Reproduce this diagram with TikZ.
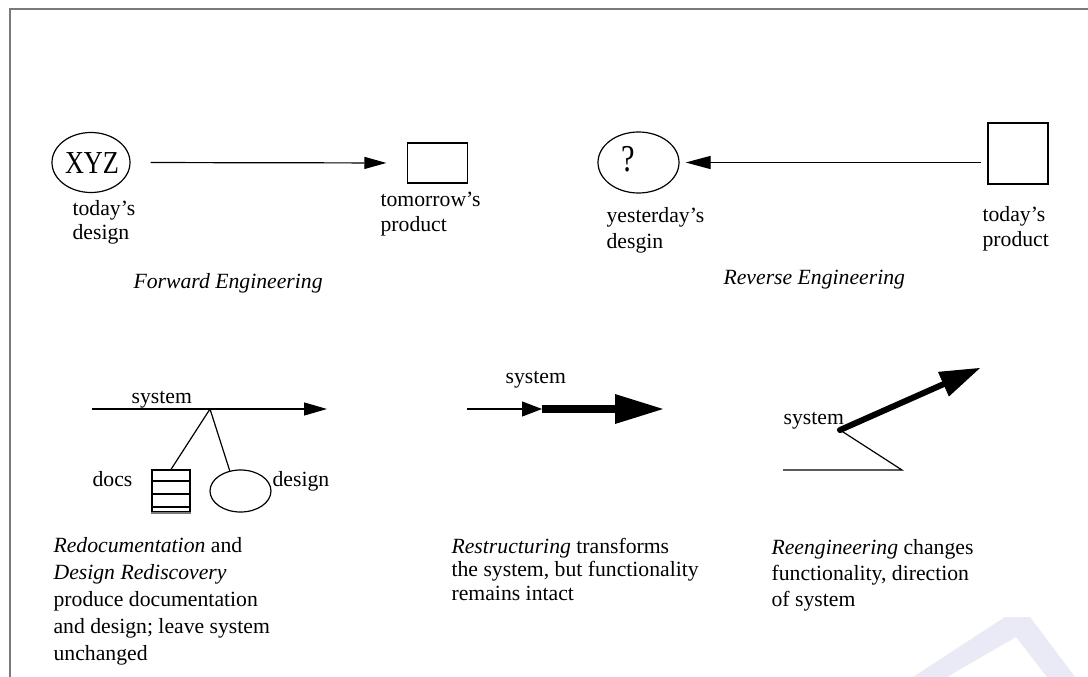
\documentclass[tikz,border=0pt]{standalone}
\usepackage{fontspec}
\setmainfont{Liberation Serif}
\usepackage{graphicx}
\usetikzlibrary{arrows.meta,shapes.geometric}
\definecolor{framegray}{HTML}{7A7A7A}
\definecolor{markwash}{HTML}{E9EAF6}
% multi-line text nodes are anchored on the baseline of their last line
\tikzset{
  txt/.style={anchor=base west, inner sep=0pt, align=left,
    font=\fontsize{21.7}{#1}\selectfont},
  txt/.default=24,
  oval/.style={draw, ellipse, inner sep=0pt},
  boxnode/.style={draw, rectangle, inner sep=0pt},
  big/.style={inner sep=0pt, font=\fontsize{#1}{#1}\selectfont},
  big/.default=32,
  headA/.style={-{Triangle[length=22pt,width=12pt]}},
}
\begin{document}
\begin{tikzpicture}[x=1pt,y=-1pt,line width=1.2pt]
\useasboundingbox (0,0) rectangle (1088,677);
\fill[white] (0,0) rectangle (1088,677);

% faint mark in the lower right corner
\fill[markwash] (913,677) -- (1005,617) -- (1030,617) -- (1075,677) -- (1047,677)
  -- (1016,637) -- (947,677) -- cycle;

% page frame
\draw[framegray, line width=1.8pt] (10,677) -- (10,9) -- (1088,9);

% ---------- Forward engineering ----------
\node[oval, minimum width=78pt, minimum height=60pt] (xyz) at (91,162.5) {};
\node[big=32] (xyzt) at (92,163.5) {\scalebox{0.82}[1]{XYZ}};
\node[boxnode, minimum width=60pt, minimum height=40pt] (tp) at (437.5,163) {};
\draw[headA, shorten <=20pt, shorten >=20.5pt] (xyz.east) -- (tp.west);
\node[txt=24] (td) at (72,239) {today’s\\design};
\node[txt=25] (tpl) at (380,231) {tomorrow’s\\product};
\node[txt, font=\fontsize{21.7}{24}\itshape] (fe) at (133,288) {Forward Engineering};

% ---------- Reverse engineering ----------
\node[oval, minimum width=81pt, minimum height=61pt] (yd) at (638.5,162.5) {};
\node[big=38] (ydt) at (628,159) {\scalebox{0.8}[1]{?}};
\node[boxnode, minimum width=60pt, minimum height=61pt] (tdp) at (1018,153.5) {};
\draw[-{Triangle[length=25pt,width=13pt]}, shorten <=6pt, shorten >=6pt]
  (yd.east -| tdp.west) -- (yd.east);
\node[txt=26] (ydl) at (606,248) {yesterday’s\\desgin};
\node[txt=25] (tdpl) at (982,246) {today’s\\product};
\node[txt, font=\fontsize{21.7}{24}\itshape] (re) at (723,284) {Reverse Engineering};

% ---------- Redocumentation / design rediscovery ----------
\coordinate (s1a) at (92,409);
\coordinate (s1b) at (327,409);
\coordinate (j1) at (210,409);
\draw[-{Triangle[length=23pt,width=13pt]}] (s1a) -- (s1b);
\node[txt] (sys1) at (131,403) {system};
\node[boxnode, minimum width=38pt, minimum height=42pt] (docs) at (171,491) {};
\draw (docs.west |- 0,481) -- (docs.east |- 0,481);
\draw (docs.west |- 0,494) -- (docs.east |- 0,494);
\draw (docs.west |- 0,507) -- (docs.east |- 0,507);
\draw[line width=2pt, framegray] (docs.south west) -- (docs.south east);
\node[oval, minimum width=61pt, minimum height=42pt] (dsn) at (240.5,491) {};
\draw (j1) -- (docs.north);
\draw (j1) -- (dsn.118);
\node[txt] (docsl) at (92,486) {docs};
\node[txt] (dsnl) at (272,486) {design};

% ---------- Restructuring ----------
\coordinate (r0) at (467,409);
\coordinate (r1) at (542,409);
\coordinate (r2) at (663,409);
\draw[-{Triangle[length=20pt,width=15pt]}] (r0) -- (r1);
\draw[line width=8pt, -{Triangle[length=48pt,width=30pt,line width=0pt]}] (r1) -- (r2);
\node[txt] (sys2) at (505,383) {system};

% ---------- Reengineering ----------
\coordinate (g0) at (783,470);
\coordinate (g1) at (902,470);
\coordinate (g2) at (840,430);
\coordinate (g3) at (980,368);
\draw (g0) -- (g1) -- (g2);
\draw[line width=6pt, line cap=round, -{Triangle[length=40pt,width=27pt,line width=0pt]}] (g2) -- (g3);
\node[txt] (sys3) at (783,424) {system};

% ---------- captions ----------
\node[txt=27] (c1) at (53,660) {\textit{Redocumentation} and\\\textit{Design Rediscovery}\\produce documentation\\and design; leave system\\unchanged};
\node[txt=23.5] (c2) at (451,600) {\textit{Restructuring} transforms\\the system, but functionality\\remains intact};
\node[txt=26] (c3) at (771,606) {\textit{Reengineering} changes\\functionality, direction\\of system};
\end{tikzpicture}
\end{document}
